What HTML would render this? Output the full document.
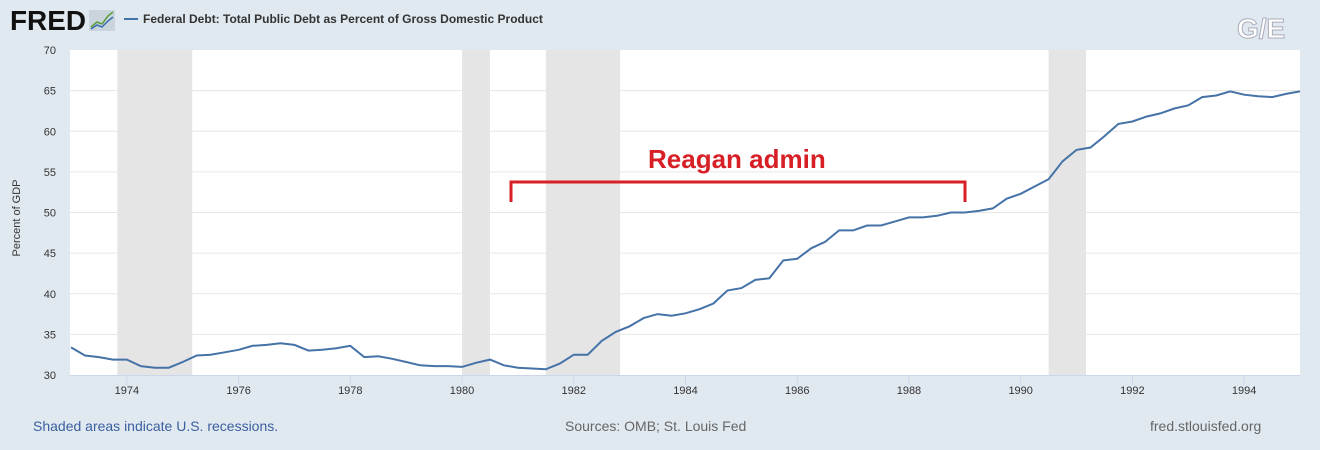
<!DOCTYPE html>
<html><head><meta charset="utf-8"><style>
body{margin:0;width:1320px;height:450px;background:#e1e9f0;overflow:hidden;font-family:"Liberation Sans",sans-serif;}
svg{display:block}
</style></head><body>
<svg width="1320" height="450">
<text x="10" y="30" font-size="28" font-weight="bold" fill="#111" textLength="76" lengthAdjust="spacingAndGlyphs">FRED</text>
<rect x="89" y="10" width="26" height="21" fill="#c9d4dd"/>
<polyline points="91,27 97,22 102,24 108,16 113,12" fill="none" stroke="#5a9c3a" stroke-width="1.5"/>
<polyline points="91,29 97,25 102,27 108,21 113,17" fill="none" stroke="#3a6cb0" stroke-width="1.5"/>
<line x1="124" y1="19" x2="138" y2="19" stroke="#4572a7" stroke-width="2"/>
<text x="143" y="23" font-size="12" font-weight="bold" fill="#333">Federal Debt: Total Public Debt as Percent of Gross Domestic Product</text>
<text x="1237" y="38" font-size="28" font-weight="bold" fill="#fff" stroke="#aab" stroke-width="1">G/E</text>
<rect x="70" y="50" width="1230" height="325" fill="#fff"/>
<g id="rec"></g><g id="grid"></g><g id="xt"></g>
<path id="line" fill="none" stroke="#4572a7" stroke-width="2"/>
<text x="15" y="213" font-size="11" fill="#333" text-anchor="middle" transform="rotate(-90 20 213)">Percent of GDP</text>
<text x="648" y="168" font-size="26" font-weight="bold" fill="#d71f26">Reagan admin</text>
<polyline points="511,202 511,182 965,182 965,202" fill="none" stroke="#d71f26" stroke-width="3"/>
<text x="33" y="431" font-size="14" fill="#3a5fa0">Shaded areas indicate U.S. recessions.</text>
<text x="565" y="431" font-size="14" fill="#666">Sources: OMB; St. Louis Fed</text>
<text x="1150" y="431" font-size="14" fill="#666">fred.stlouisfed.org</text>
</svg>
<script>
const values=[33.4,32.4,32.2,31.9,31.9,31.1,30.9,30.9,31.6,32.4,32.5,32.8,33.1,33.6,33.7,33.9,33.7,33.0,33.1,33.3,33.6,32.2,32.3,32.0,31.6,31.2,31.1,31.1,31.0,31.5,31.9,31.2,30.9,30.8,30.7,31.4,32.5,32.5,34.2,35.3,36.0,37.0,37.5,37.3,37.6,38.1,38.8,40.4,40.7,41.7,41.9,44.1,44.3,45.6,46.4,47.8,47.8,48.4,48.4,48.9,49.4,49.4,49.6,50.0,50.0,50.2,50.5,51.7,52.3,53.2,54.1,56.3,57.7,58.0,59.4,60.9,61.2,61.8,62.2,62.8,63.2,64.2,64.4,64.9,64.5,64.3,64.2,64.6,64.9];
const startYear=1973;
const yTicks=[30,35,40,45,50,55,60,65,70];
const xTicks=[1974,1976,1978,1980,1982,1984,1986,1988,1990,1992,1994];
const recStart=[1973.83,1980.0,1981.5,1990.5];
const recEnd=[1975.17,1980.5,1982.83,1991.17];
const NS="http://www.w3.org/2000/svg";
const X=t=>71+(t-1973)*(1229/22);
const Y=v=>375-(v-30)*(325/40);
const mk=(tag,attrs,parent)=>{const e=document.createElementNS(NS,tag);for(const k in attrs)e.setAttribute(k,attrs[k]);document.getElementById(parent).appendChild(e);return e;};
recStart.forEach((s,i)=>{
 const r=mk('rect',{x:X(s),y:50,width:X(recEnd[i])-X(s),height:325,fill:'#e5e5e5'},'rec');
 
 
});
yTicks.forEach(v=>{
 if(v>30&&v<70){const l=mk('line',{x1:70,x2:1300,y1:Y(v),y2:Y(v),stroke:'#e6e6e6','stroke-width':1},'grid');
 
 }
 const t=mk('text',{x:56,y:Y(v)+4,'font-size':11,fill:'#333','text-anchor':'end'},'grid');
 t.textContent=v;
 
 
});
mk('line',{x1:70,x2:1300,y1:375.5,y2:375.5,stroke:'#ccd6eb'},'xt');
xTicks.forEach(yr=>{
 const l=mk('line',{x1:X(yr),x2:X(yr),y1:375,y2:385,stroke:'#ccd6eb'},'xt');
 
 
 const t=mk('text',{x:X(yr),y:394,'font-size':11,fill:'#333','text-anchor':'middle'},'xt');
 t.textContent=yr;
 
 
});
document.getElementById('line').setAttribute('d',values.map((v,i)=>(i?'L':'M')+X(startYear+i/4).toFixed(1)+','+Y(v).toFixed(1)).join(''));
</script>
</body></html>
